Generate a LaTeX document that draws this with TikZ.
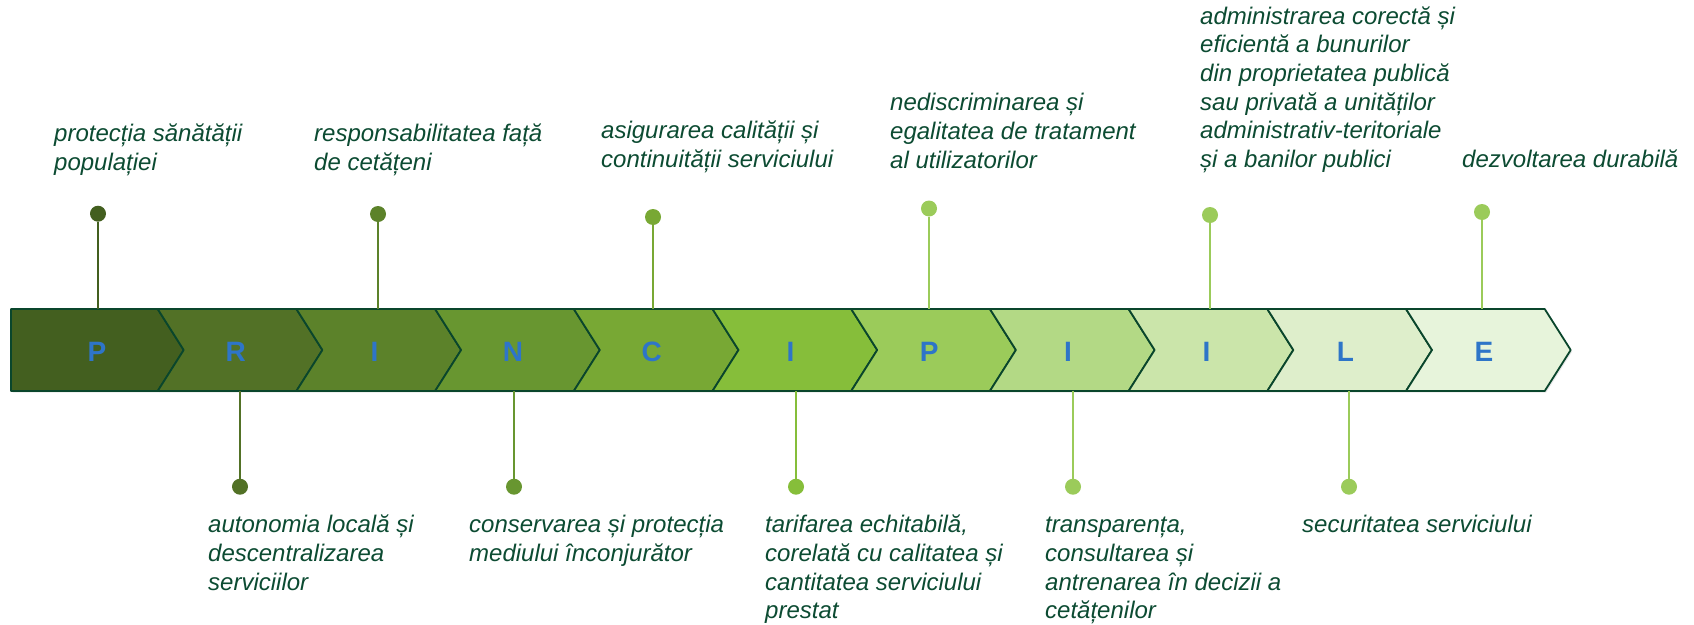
\documentclass[tikz,border=0pt]{standalone}
\usepackage{fontspec}
\setmainfont{Liberation Sans}
\usetikzlibrary{shadows}
\definecolor{c1}{RGB}{67,95,31}
\definecolor{c2}{RGB}{82,113,38}
\definecolor{c3}{RGB}{92,130,42}
\definecolor{c4}{RGB}{104,150,48}
\definecolor{c5}{RGB}{120,168,52}
\definecolor{c6}{RGB}{134,190,58}
\definecolor{c7}{RGB}{155,203,90}
\definecolor{c8}{RGB}{179,217,133}
\definecolor{c9}{RGB}{203,229,170}
\definecolor{c10}{RGB}{222,238,203}
\definecolor{c11}{RGB}{231,244,219}
\definecolor{bord}{RGB}{10,70,44}
\definecolor{letc}{RGB}{46,117,200}
\definecolor{txt}{RGB}{12,75,50}
\begin{document}
\begin{tikzpicture}[x=1pt,y=-1pt,
  chev/.style={draw=bord, line width=1.8pt, line join=round,
    drop shadow={opacity=0.18, shadow xshift=1.5pt, shadow yshift=-1.5pt}},
  letter/.style={font=\fontsize{28}{30}\selectfont\bfseries, text=letc, inner sep=0pt, anchor=base},
  lbl/.style={font=\fontsize{24}{28.7}\selectfont\itshape, text=txt, inner sep=0pt, anchor=base west},
  dot/.style={circle, inner sep=0pt, minimum size=16pt},
  stem/.style={line width=2pt}
]
\useasboundingbox (0,0) rectangle (1694,624);

% chevron band
\foreach \i/\col/\ltr in {0/c1/P,1/c2/R,2/c3/I,3/c4/N,4/c5/C,5/c6/I,6/c7/P,7/c8/I,8/c9/I,9/c10/L,10/c11/E}{
  \pgfmathsetmacro\L{19+138.7*\i}
  \pgfmathsetmacro\R{\L+138.7}
  \pgfmathsetmacro\T{\R+26}
  \pgfmathsetmacro\N{\L+26}
  \ifnum\i=0
    \path[chev, fill=\col] (11,309) -- (\R,309) -- (\T,350) -- (\R,391) -- (11,391) -- cycle;
  \else
    \path[chev, fill=\col] (\L,309) -- (\R,309) -- (\T,350) -- (\R,391) -- (\L,391) -- (\N,350) -- cycle;
  \fi
  \pgfmathsetmacro\X{\L+78}
  \node[letter] (let\i) at (\X,361) {\ltr};
}

% top pins
\foreach \n/\x/\y/\col in {p0/98/213.7/c1, p2/378/214/c3, p4/653/217/c5, p6/929/208.5/c7, p8/1210/215/c7, p10/1482/212/c7}{
  \node[dot, fill=\col] (d\n) at (\x,\y) {};
  \coordinate (e\n) at (\x,309);
  \draw[stem, draw=\col] (d\n) -- (e\n);
}
% bottom pins
\foreach \n/\x/\col in {p1/240/c2, p3/514/c4, p5/796/c6, p7/1073/c7, p9/1349/c7}{
  \node[dot, fill=\col] (d\n) at (\x,486.7) {};
  \coordinate (e\n) at (\x,391);
  \draw[stem, draw=\col] (e\n) -- (d\n);
}

% top labels (anchored at last baseline)
\node[lbl] (t0) at (54,170.5) {\begin{tabular}[b]{@{}l@{}}protecția sănătății\\populației\end{tabular}};
\node[lbl] (t2) at (314,170.5) {\begin{tabular}[b]{@{}l@{}}responsabilitatea față\\de cetățeni\end{tabular}};
\node[lbl] (t4) at (601,167) {\begin{tabular}[b]{@{}l@{}}asigurarea calității și\\continuității serviciului\end{tabular}};
\node[lbl] (t6) at (890,168) {\begin{tabular}[b]{@{}l@{}}nediscriminarea și\\egalitatea de tratament\\al utilizatorilor\end{tabular}};
\node[lbl] (t8) at (1200,167.5) {\begin{tabular}[b]{@{}l@{}}administrarea corectă și\\eficientă a bunurilor\\din proprietatea publică\\sau privată a unităților\\administrativ-teritoriale\\și a banilor publici\end{tabular}};
\node[lbl] (t10) at (1462,167) {\begin{tabular}[b]{@{}l@{}}dezvoltarea durabilă\end{tabular}};

% bottom labels (anchored at first baseline)
\node[lbl] (t1) at (208,532.7) {\begin{tabular}[t]{@{}l@{}}autonomia locală și\\descentralizarea\\serviciilor\end{tabular}};
\node[lbl] (t3) at (469,532.7) {\begin{tabular}[t]{@{}l@{}}conservarea și protecția\\mediului înconjurător\end{tabular}};
\node[lbl] (t5) at (765,532.7) {\begin{tabular}[t]{@{}l@{}}tarifarea echitabilă,\\corelată cu calitatea și\\cantitatea serviciului\\prestat\end{tabular}};
\node[lbl] (t7) at (1045,532.7) {\begin{tabular}[t]{@{}l@{}}transparența,\\consultarea și\\antrenarea în decizii a\\cetățenilor\end{tabular}};
\node[lbl] (t9) at (1302,532.7) {\begin{tabular}[t]{@{}l@{}}securitatea serviciului\end{tabular}};
\end{tikzpicture}
\end{document}
